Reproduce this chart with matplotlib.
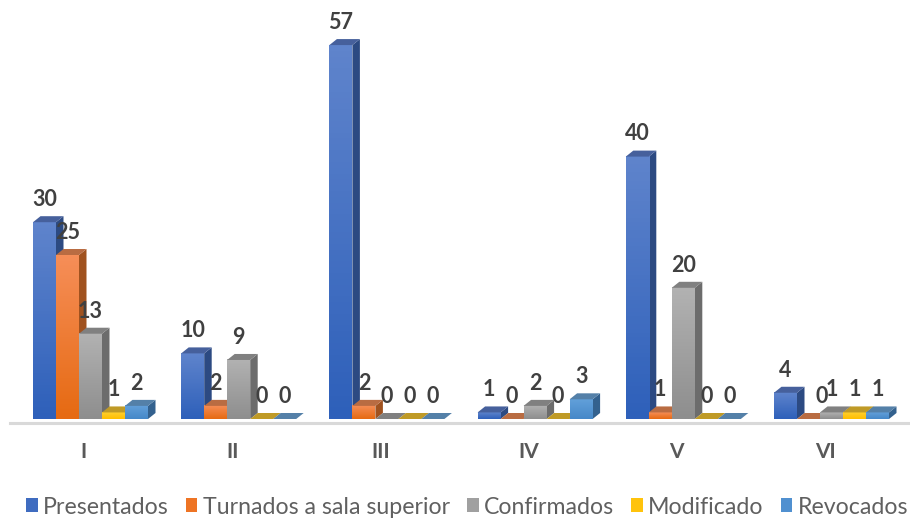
import numpy as np
import matplotlib
matplotlib.use("Agg")
import matplotlib.pyplot as plt
from matplotlib.patches import Polygon, Patch
from matplotlib.colors import LinearSegmentedColormap

plt.rcParams["font.family"] = ["Lato", "DejaVu Sans"]

# datos
salas = ["I", "II", "III", "IV", "V", "VI"]
presentados = [30, 10, 57, 1, 40, 4]
turnados = [25, 2, 2, 0, 1, 0]
confirmados = [13, 9, 0, 2, 20, 1]
modificado = [1, 0, 0, 0, 0, 1]
revocados = [2, 0, 0, 3, 0, 1]

nombres = ["Presentados", "Turnados a sala superior", "Confirmados", "Modificado", "Revocados"]
series = [presentados, turnados, confirmados, modificado, revocados]

# (arriba, abajo, lado, tapa)
colores = [
    ("#5F84CC", "#2E60BA", "#2C4A82", "#46609C"),
    ("#F68E58", "#E66A12", "#A0521F", "#B96C42"),
    ("#B2B2B2", "#8E8E8E", "#6C6C6C", "#808080"),
    ("#FFD02E", "#FFBE00", "#A88410", "#BF9A26"),
    ("#62A0DA", "#4688C8", "#33618E", "#5480A8"),
]
leyenda = ["#3F6CC0", "#EE7424", "#A0A0A0", "#FFC30C", "#5090D0"]

# escala: 148.2 px por grupo, 6.56 px por unidad
px_x = 148.2
px_y = 6.56
ancho = 23 / px_x
inicio = -51 / px_x
dx = 7.5 / px_x
dy = 6 / px_y

fig = plt.figure(figsize=(9.10, 5.21), dpi=100)
ax = fig.add_axes([0, 0, 1, 1])
ax.set_xlim(-84 / px_x, (910 - 84) / px_x)
ax.set_ylim(-102 / px_y, 419 / px_y)
ax.axis("off")

# piso
ax.plot([-74 / px_x, 826 / px_x], [-4 / px_y, -4 / px_y], color="#D9D9D9", lw=2.2, zorder=1)

z = 2
for g in range(len(salas)):
    for s, valores in enumerate(series):
        v = valores[g]
        x0 = g + inicio + s * ancho
        x1 = x0 + ancho
        c_arriba, c_abajo, c_lado, c_tapa = colores[s]
        if v > 0:
            ax.add_patch(Polygon([(x1, 0), (x1 + dx, dy), (x1 + dx, v + dy), (x1, v)],
                                 fc=c_lado, ec="none", zorder=z))
            cmap = LinearSegmentedColormap.from_list("f", [c_abajo, c_arriba])
            ax.imshow(np.linspace(1, 0, 64).reshape(-1, 1), cmap=cmap, vmin=0, vmax=1,
                      extent=(x0, x1, 0, v), aspect="auto", zorder=z + 0.1)
        ax.add_patch(Polygon([(x0, v), (x0 + dx, v + dy), (x1 + dx, v + dy), (x1, v)],
                             fc=c_tapa, ec="none", zorder=z + 0.2))
        z += 1

for g in range(len(salas)):
    for s, valores in enumerate(series):
        x = g + inicio + (s + 0.5) * ancho
        # el 0 de Turnados en VI esta corrido a la derecha en el original
        corrido = 9.4 if (g == 5 and s == 1) else 0
        ax.annotate(str(valores[g]), (x, valores[g]), xytext=(corrido, 16.3), textcoords="offset points",
                    ha="center", va="center", fontsize=15.5, fontweight="bold", color="#404040", zorder=500)
    ax.text(g, -33 / px_y, salas[g], ha="center", va="center", fontsize=15,
            fontweight="bold", color="#595959", zorder=500)

ax.set_xlim(-84 / px_x, (910 - 84) / px_x)
ax.set_ylim(-102 / px_y, 419 / px_y)

handles = [Patch(fc=c, ec="none", label=n) for c, n in zip(leyenda, nombres)]
ax.legend(handles=handles, ncols=5, loc="center", bbox_to_anchor=(467 / 910, 14 / 521), frameon=False,
          fontsize=16.7, labelcolor="#606060", handlelength=0.5, handleheight=0.55,
          handletextpad=0.22, columnspacing=0.75, borderpad=0, borderaxespad=0)

fig.savefig("out.png", dpi=100)
